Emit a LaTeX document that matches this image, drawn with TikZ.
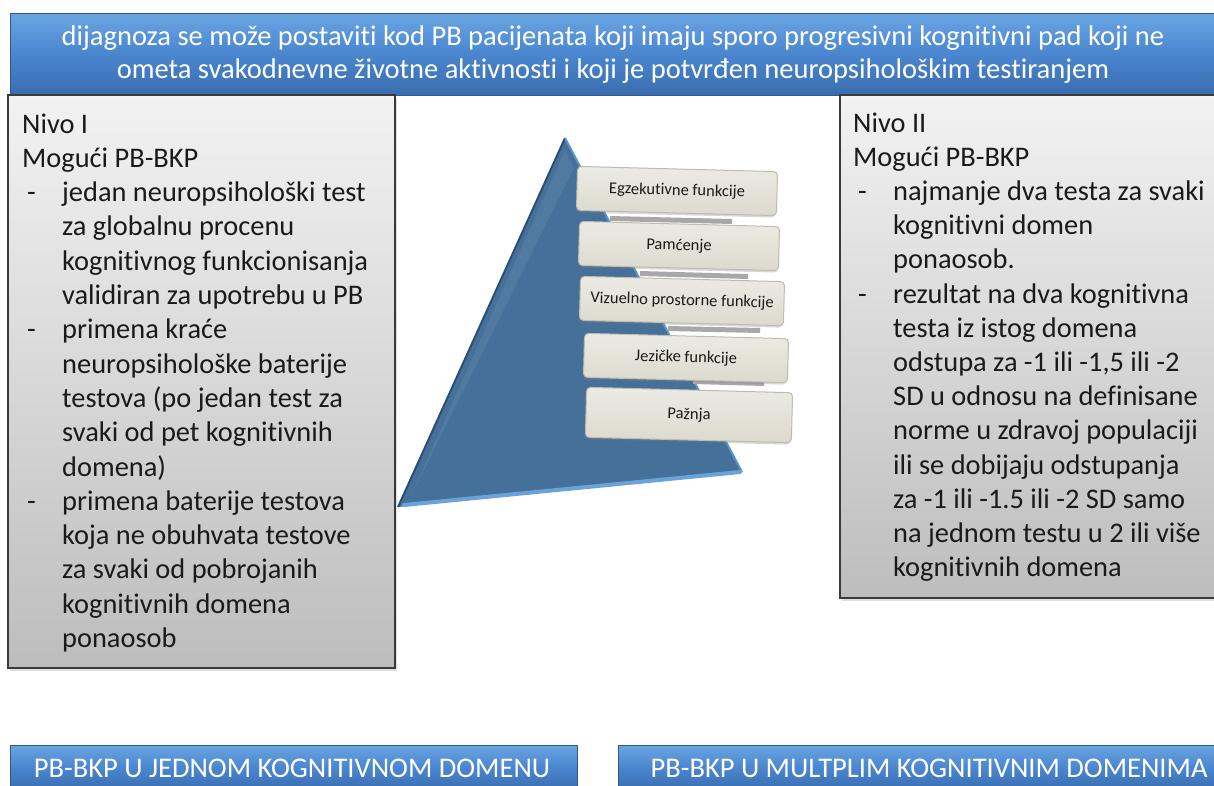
\documentclass[tikz,border=0pt]{standalone}
\usepackage{fontspec}
\setmainfont{Carlito}[Ligatures={NoCommon}]
\usetikzlibrary{shadows}
\definecolor{banTop}{HTML}{6AA5E2}
\definecolor{banMid}{HTML}{4A86CF}
\definecolor{banBot}{HTML}{3A6DAF}
\definecolor{banEdge}{HTML}{2F5A8F}
\definecolor{boxTop}{HTML}{F2F2F2}
\definecolor{boxBot}{HTML}{BDBDBD}
\definecolor{boxEdge}{HTML}{3A3A3A}
\definecolor{txt}{HTML}{1A1A1A}
\definecolor{triFill}{HTML}{44709A}
\definecolor{triDark}{HTML}{2B4F73}
\definecolor{triLight}{HTML}{6AA3DA}
\definecolor{barFill}{HTML}{DCDACE}
\definecolor{barLight}{HTML}{ECEBE4}
\definecolor{barEdge}{HTML}{BEBCB0}
\definecolor{stripGray}{HTML}{A8A8A8}
\tikzset{
  banner/.style={draw=banEdge, line width=0.8pt, top color=banTop, bottom color=banBot, middle color=banMid},
  greybox/.style={draw=boxEdge, line width=1.2pt, top color=boxTop, bottom color=boxBot,
    drop shadow={shadow xshift=2pt, shadow yshift=-3pt, opacity=0.25}},
  boxtext/.style={anchor=base west, inner sep=0pt, text=txt, font=\fontsize{28.4}{32}\selectfont},
  bantext/.style={anchor=base, inner sep=0pt, text=white, font=\fontsize{28.5}{32}\selectfont},
  bottext/.style={anchor=base, inner sep=0pt, text=white, font=\fontsize{28.5}{32}\selectfont},
  barbox/.style={draw=barEdge, line width=1pt, rounded corners=4pt, top color=barLight, bottom color=barFill,
    minimum width=200pt, minimum height=44pt, rotate=-1.5, inner sep=0pt,
    text=txt, font=\fontsize{16.5}{18}\selectfont,
    drop shadow={shadow xshift=-1pt, shadow yshift=-2pt, opacity=0.3}},
  strip/.style={fill=stripGray, draw=none}
}
\begin{document}
\begin{tikzpicture}[x=1pt,y=-1pt]
\useasboundingbox (0,0) rectangle (1214,785);
\fill[white] (0,0) rectangle (1214,785);

% top banner
\path[banner] (10,13) rectangle (1218,95);
\node[bantext] (t1) at (613,45) {dijagnoza se može postaviti kod PB pacijenata koji imaju sporo progresivni kognitivni pad koji ne};
\node[bantext] (t2) at (613,78) {ometa svakodnevne životne aktivnosti i koji je potvrđen neuropsihološkim testiranjem};

% grey boxes
\path[greybox] (8,95) rectangle (395,668);
\path[greybox] (840,95) rectangle (1220,598);

% left box text
\foreach \t [count=\i] in {{Nivo I},{Mogući PB-BKP}}
  \node[boxtext] (La\i) at (22,{133+34.3*(\i-1)}) {\t};
\foreach \t [count=\i from 3] in {{jedan neuropsihološki test},{za globalnu procenu},{kognitivnog funkcionisanja},{validiran za upotrebu u PB},{primena kraće},{neuropsihološke baterije},{testova (po jedan test za},{svaki od pet kognitivnih},{domena)},{primena baterije testova},{koja ne obuhvata testove},{za svaki od pobrojanih},{kognitivnih domena},{ponaosob}}
  \node[boxtext] (L\i) at (62,{133+34.3*(\i-1)}) {\t};
\foreach \i in {3,7,12}
  \node[boxtext] (Ld\i) at (27,{133+34.3*(\i-1)}) {-};

% right box text
\foreach \t [count=\i] in {{Nivo II},{Mogući PB-BKP}}
  \node[boxtext] (Ra\i) at (853,{132+34.2*(\i-1)}) {\t};
\foreach \t [count=\i from 3] in {{najmanje dva testa za svaki},{kognitivni domen},{ponaosob.},{rezultat na dva kognitivna},{testa iz istog domena},{odstupa za -1 ili -1,5 ili -2},{SD u odnosu na definisane},{norme u zdravoj populaciji},{ili se dobijaju odstupanja},{za -1 ili -1.5 ili -2 SD samo},{na jednom testu u 2 ili više},{kognitivnih domena}}
  \node[boxtext] (R\i) at (893,{132+34.2*(\i-1)}) {\t};
\foreach \i in {3,6}
  \node[boxtext] (Rd\i) at (858,{132+34.2*(\i-1)}) {-};

% pyramid
\fill[triFill] (565,138) -- (742,472) -- (398,507) -- cycle;
\draw[triDark, line width=2pt, line join=round] (398,507) -- (565,138);
\draw[triLight!70!triFill, line width=2pt] (565,138) -- (742,472);
\draw[triLight, line width=4pt, line cap=round] (404,505) -- (740,472);
\fill[triFill!80!white, opacity=0.35] (565,150) -- (574,168) -- (410,498) -- cycle;

% grey strips between bars
\fill[strip] (610,216) -- (732,219) -- (732,224) -- (610,221) -- cycle;
\fill[strip] (640,271) -- (748,274) -- (748,279) -- (640,276) -- cycle;
\fill[strip] (668,326) -- (760,328) -- (760,333) -- (668,331) -- cycle;
\fill[strip] (693,380) -- (764,382) -- (764,386) -- (693,384) -- cycle;

% bars
\node[barbox] (b1) at (677,191) {Egzekutivne funkcije};
\node[barbox] (b2) at (679,246) {Pamćenje};
\node[barbox, minimum width=204pt] (b3) at (682,301) {Vizuelno prostorne funkcije};
\node[barbox, minimum width=204pt] (b4) at (686,358) {Jezičke funkcije};
\node[barbox, minimum width=206pt, minimum height=50pt] (b5) at (689,415) {Pažnja};

% bottom banners
\path[banner] (10,745) rectangle (577,790);
\path[banner] (618,745) rectangle (1218,790);
\node[bottext] (p1) at (292,777) {PB-BKP U JEDNOM KOGNITIVNOM DOMENU};
\node[bottext] (p2) at (929,777) {PB-BKP U MULTPLIM KOGNITIVNIM DOMENIMA};
\end{tikzpicture}
\end{document}
